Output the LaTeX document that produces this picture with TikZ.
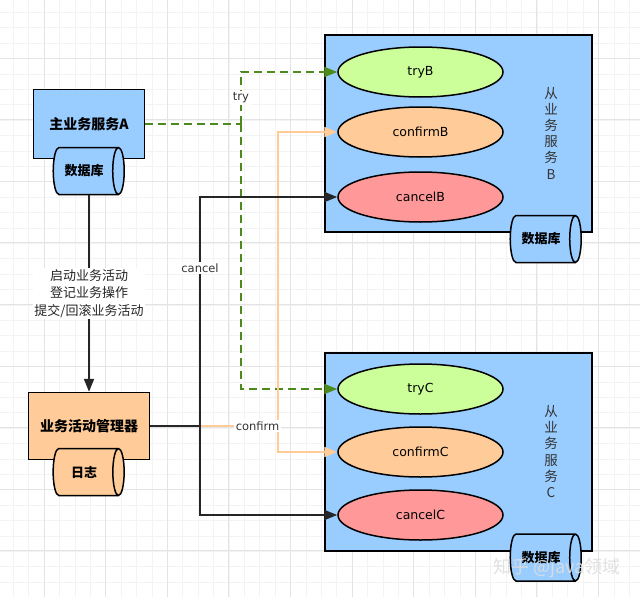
\documentclass[tikz,border=0pt]{standalone}
\usepackage{fontspec}
\setmainfont{DejaVu Sans}
\newfontfamily\cjk{Noto Sans CJK SC}
\usetikzlibrary{shapes.geometric,arrows.meta}
\definecolor{svcblue}{HTML}{99CCFF}
\definecolor{mgrorange}{HTML}{FFCC99}
\definecolor{trygreen}{HTML}{CCFF99}
\definecolor{cancelred}{HTML}{FF9999}
\definecolor{dashgreen}{HTML}{4D8A1E}
\definecolor{confcol}{HTML}{FFCC99}
\definecolor{gridmin}{HTML}{F3F3F3}
\definecolor{gridmaj}{HTML}{E4E4E4}
\tikzset{%
	block/.style    = {draw, line width=1.5pt, rectangle, font=\cjk\bfseries\fontsize{14}{17}\selectfont},
	db/.style       = {draw, line width=1.5pt, cylinder, shape border rotate=0, aspect=0.6,
		minimum width=47pt, minimum height=71pt, font=\cjk\bfseries\fontsize{13}{15}\selectfont}, % database
	op/.style       = {draw, line width=1.5pt, ellipse, minimum width=165pt, minimum height=50pt,
		font=\fontsize{12.5}{14}\selectfont}, % try/confirm/cancel
	lbl/.style      = {fill=white, inner sep=1.5pt, text=black!80, font=\fontsize{11.5}{13}\selectfont},
	vlbl/.style     = {align=center, text=black!80, font=\cjk\fontsize{13.5}{16.2}\selectfont},
	tryline/.style  = {dashgreen, line width=2pt, dash pattern=on 8pt off 5pt},
	confline/.style = {confcol, line width=2pt},
	cancelline/.style = {black!85, line width=2pt}
}

\begin{document}
\begin{tikzpicture}[x=1pt, y=-1pt, >={Triangle[length=13pt,width=10pt]}]
			\useasboundingbox[fill=white] (0,0) rectangle (640,597);
			% grid
			\foreach \i in {0,...,40} \draw[gridmin, line width=0.6pt] ({13.2+15.4*\i},0) -- ({13.2+15.4*\i},597);
			\foreach \j in {0,...,38} \draw[gridmin, line width=0.6pt] (0,{12.2+15.4*\j}) -- (640,{12.2+15.4*\j});
			\foreach \i in {0,...,9} \draw[gridmaj, line width=0.8pt] ({44+61.6*\i},0) -- ({44+61.6*\i},597);
			\foreach \j in {0,...,8} \draw[gridmaj, line width=0.8pt] (0,{58+61.6*\j}) -- (640,{58+61.6*\j});
			
			% main service and manager
			\node[block, fill=svcblue, minimum width=111pt, minimum height=69pt] (svcA) at (89,124) {主业务服务A};
			\node[db, fill=svcblue]    (dbA)  at (84,171) {数据库};
			\node[block, fill=mgrorange, minimum width=121pt, minimum height=67pt] (mgr) at (89,426) {业务活动管理器};
			\node[db, fill=mgrorange]  (logM) at (84,472) {日志};
			
			% service B
			\node[draw, line width=1.5pt, fill=svcblue, minimum width=267pt, minimum height=197pt] (svcB) at (458.5,133.5) {};
			\node[op, fill=trygreen]  (tryB)     at (420.5,72)  {tryB};
			\node[op, fill=mgrorange] (confirmB) at (420.5,132) {confirmB};
			\node[op, fill=cancelred] (cancelB)  at (420.5,197) {cancelB};
			\node[vlbl] (nameB) at (551,133) {从\\业\\务\\服\\务\\B};
			\node[db, fill=svcblue]   (dbB) at (541,239) {数据库};
			
			% service C
			\node[draw, line width=1.5pt, fill=svcblue, minimum width=267pt, minimum height=198pt] (svcC) at (458.5,452) {};
			\node[op, fill=trygreen]  (tryC)     at (420.5,389) {tryC};
			\node[op, fill=mgrorange] (confirmC) at (420.5,452) {confirmC};
			\node[op, fill=cancelred] (cancelC)  at (420.5,515) {cancelC};
			\node[vlbl] (nameC) at (551,451.5) {从\\业\\务\\服\\务\\C};
			\node[db, fill=svcblue]   (dbC) at (541,557.5) {数据库};
			
			% A -> manager
			\draw[cancelline,->] (dbA.south -| mgr.north) -- node[lbl, align=center, font=\cjk\fontsize{13}{17.5}\selectfont, text=black!85]
				{启动业务活动\\登记业务操作\\提交/回滚业务活动} (mgr.north);
			
			% try
			\coordinate (tryX) at (241,124);
			\draw[tryline] (svcA.east) -- (tryX);
			\draw[tryline,->] (tryX) |- (tryB.west);
			\draw[tryline,->] (tryX) |- (tryC.west);
			\node[lbl] (tryT) at (241,98) {try};
			
			% confirm
			\coordinate (confX) at (278,426);
			\draw[confline,->] (confX) |- (confirmB.west);
			\draw[confline,->] (confX) |- (confirmC.west);
			\draw[confline] (mgr.east) -- node[lbl, pos=0.84] {confirm} (confX);
			
			% cancel
			\coordinate (cancelX) at (200,426);
			\draw[cancelline] (mgr.east) -- (cancelX);
			\draw[cancelline,->] (cancelX) |- (cancelB.west);
			\draw[cancelline,->] (cancelX) |- (cancelC.west);
			\node[lbl] (cancelT) at (200,268) {cancel};
			
			\node[font=\cjk\fontsize{18}{20}\selectfont, text=black!13, opacity=0.9] (mark) at (557,568) {知乎 @java领域};
		\end{tikzpicture}
\end{document}
